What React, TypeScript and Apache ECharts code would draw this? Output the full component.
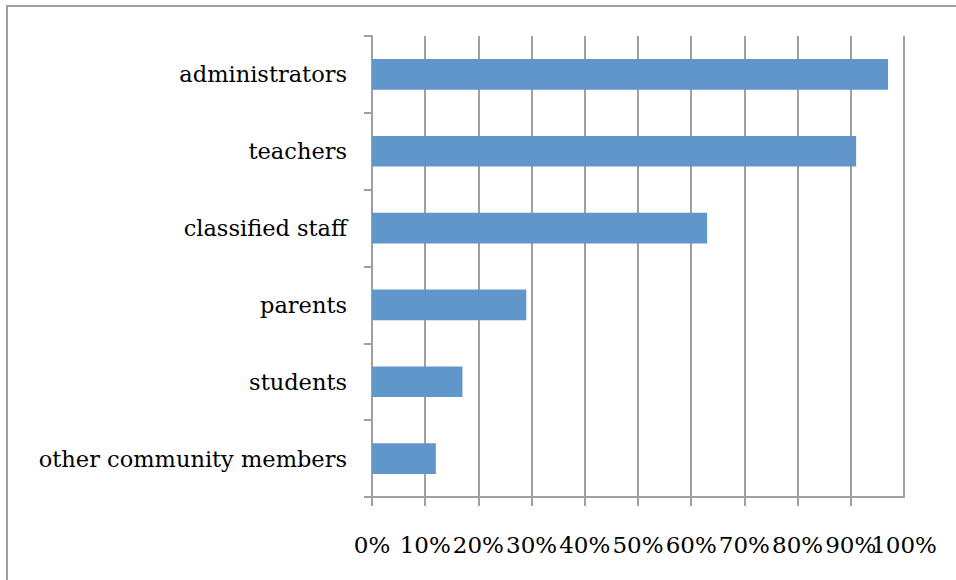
import React, { useEffect, useRef } from "react";
import * as echarts from "echarts";

const categories = [
  "administrators",
  "teachers",
  "classified staff",
  "parents",
  "students",
  "other community members",
];
const values = [0.97, 0.91, 0.63, 0.29, 0.17, 0.12];
const xTicks = [0, 0.1, 0.2, 0.3, 0.4, 0.5, 0.6, 0.7, 0.8, 0.9, 1.0];

export default function App() {
  const ref = useRef<HTMLDivElement>(null);
  useEffect(() => {
    if (!ref.current) return;
    const chart = echarts.init(ref.current, null, { renderer: "svg" });
    const gray = "#a0a0a0";
    const font = "'DejaVu Serif', serif";
    const xMin = xTicks[0];
    const xMax = xTicks[xTicks.length - 1];
    const pct = (v: number) => Math.round(v * 100) + "%";
    const labelBase = {
      margin: 36,
      color: "#000",
      fontFamily: font,
      fontSize: 23,
    };
    chart.setOption({
      animation: false,
      backgroundColor: "#ffffff",
      graphic: [
        {
          type: "rect",
          shape: { x: 7, y: 6, width: 1000, height: 700 },
          style: { fill: "none", stroke: gray, lineWidth: 2 },
          silent: true,
        },
      ],
      grid: { left: 372, right: 52, top: 36, bottom: 83 },
      xAxis: [
        {
          type: "value",
          min: xMin,
          max: xMax,
          interval: 0.1,
          axisLine: { show: true, lineStyle: { color: gray, width: 2 } },
          axisTick: { show: true, length: 9, lineStyle: { color: gray, width: 2 } },
          splitLine: { show: true, lineStyle: { color: gray, width: 2 } },
          axisLabel: {
            ...labelBase,
            showMinLabel: true,
            showMaxLabel: false,
            formatter: (v: number) => (v >= xMax - 1e-9 ? "" : pct(v)),
          },
        },
        {
          type: "value",
          position: "bottom",
          min: xMin,
          max: xMax,
          interval: 0.1,
          axisLine: { show: false },
          axisTick: { show: false },
          splitLine: { show: false },
          axisLabel: {
            ...labelBase,
            showMinLabel: false,
            showMaxLabel: true,
            formatter: (v: number) => (v >= xMax - 1e-9 ? pct(v) : ""),
          },
        },
      ],
      yAxis: {
        type: "category",
        data: categories,
        inverse: true,
        axisLine: { show: true, lineStyle: { color: gray, width: 2 } },
        axisTick: { show: true, length: 8, lineStyle: { color: gray, width: 2 } },
        axisLabel: {
          margin: 25,
          color: "#000",
          fontFamily: font,
          fontSize: 22.5,
        },
      },
      series: [
        {
          type: "bar",
          xAxisIndex: 0,
          data: values,
          barCategoryGap: "60%",
          itemStyle: { color: "#6096CA" },
        },
      ],
    });
    return () => chart.dispose();
  }, []);
  return (
    <div
      ref={ref}
      style={{ position: "fixed", left: 0, top: 0, width: 956, height: 580 }}
    />
  );
}
